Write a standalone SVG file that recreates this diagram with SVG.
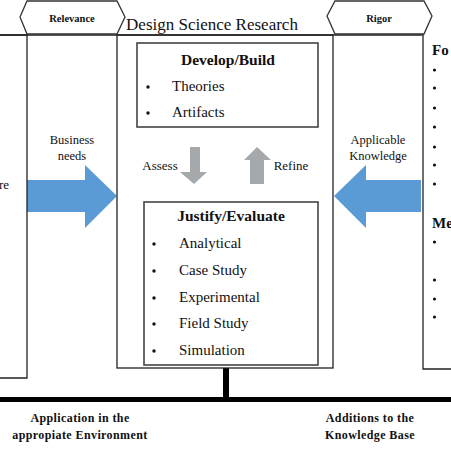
<svg xmlns="http://www.w3.org/2000/svg" width="451" height="451" viewBox="0 0 451 451">
<style>
.serif{font-family:"Liberation Serif","Times New Roman",serif;fill:#111}
.b{font-weight:bold}
.box{fill:none;stroke:#222;stroke-width:1.3}
.inner{fill:none;stroke:#444;stroke-width:1.6}
.hex{fill:#fff;stroke:#333;stroke-width:1.3}
.blue{fill:#5B9BD5}
.gray{fill:#A5A9AC}
.thick{stroke:#000;stroke-width:5;fill:none}
</style>
<rect width="451" height="451" fill="#fff"/>
<g id="connectors">
  <line x1="0" y1="35" x2="424" y2="35" stroke="#222" stroke-width="1.3"/>
  <polyline class="thick" points="0,399.5 451,399.5"/>
  <line x1="226" y1="368" x2="226" y2="399" stroke="#000" stroke-width="6"/>
  <polygon class="blue" points="27,180 85,180 85,165 117,196 85,228 85,212 27,212"/>
  <polygon class="blue" points="421,180 366,180 366,165 334,196 366,228 366,212 421,212"/>
  <polygon class="gray" points="190,147 200,147 200,172 207,172 194,184 180,172 190,172"/>
  <polygon class="gray" points="250,184 264,184 264,160 271,160 257,147 244,160 250,160"/>
  <text class="serif" x="160" y="170" font-size="13" text-anchor="middle">Assess</text>
  <text class="serif" x="291" y="170" font-size="13" text-anchor="middle">Refine</text>
  <text class="serif" x="72" y="144" font-size="12.5" text-anchor="middle">Business</text>
  <text class="serif" x="72" y="160" font-size="12.5" text-anchor="middle">needs</text>
  <text class="serif" x="378" y="144" font-size="12.5" text-anchor="middle">Applicable</text>
  <text class="serif" x="378" y="160" font-size="12.5" text-anchor="middle">Knowledge</text>
</g>
<g id="relevance">
  <polygon class="hex" points="20,17 27,1 117,1 125,17 117,34 27,34"/>
  <text class="serif b" x="72" y="22" font-size="10.5" text-anchor="middle">Relevance</text>
</g>
<g id="rigor">
  <polygon class="hex" points="327,16 335,1 424,1 432,16 424,34 335,34"/>
  <text class="serif b" x="379" y="22" font-size="10.5" text-anchor="middle">Rigor</text>
</g>
<g id="environment">
  <polyline class="box" points="-2,35 27,35 27,378 -2,378"/>
  <text class="serif" x="9" y="189" font-size="13" text-anchor="end">re</text>
</g>
<g id="dsr">
  <rect class="box" x="117" y="35" width="216" height="333"/>
  <text class="serif" x="212" y="30" font-size="17" text-anchor="middle">Design Science Research</text>
</g>
<g id="develop">
  <rect class="inner" x="137" y="43" width="181" height="84"/>
  <text class="serif b" x="228" y="65" font-size="15.5" text-anchor="middle">Develop/Build</text>
  <circle cx="148" cy="87" r="1.7" fill="#111"/>
  <text class="serif" x="172" y="91" font-size="15">Theories</text>
  <circle cx="148" cy="113" r="1.7" fill="#111"/>
  <text class="serif" x="172" y="117" font-size="15">Artifacts</text>
</g>
<g id="justify">
  <rect class="inner" x="144" y="202" width="174" height="163"/>
  <text class="serif b" x="231" y="221" font-size="15.5" text-anchor="middle">Justify/Evaluate</text>
  <circle cx="154" cy="244" r="1.7" fill="#111"/>
  <text class="serif" x="179" y="248" font-size="15">Analytical</text>
  <circle cx="154" cy="271" r="1.7" fill="#111"/>
  <text class="serif" x="179" y="275" font-size="15">Case Study</text>
  <circle cx="154" cy="298" r="1.7" fill="#111"/>
  <text class="serif" x="179" y="302" font-size="15">Experimental</text>
  <circle cx="154" cy="324" r="1.7" fill="#111"/>
  <text class="serif" x="179" y="328" font-size="15">Field Study</text>
  <circle cx="154" cy="351" r="1.7" fill="#111"/>
  <text class="serif" x="179" y="355" font-size="15">Simulation</text>
</g>
<g id="knowledge-base">
  <polyline class="box" points="453,369 423,369 423,36"/>
  <text class="serif b" x="432" y="55" font-size="15">Fo</text>
  <g fill="#111">
    <circle cx="434.5" cy="70" r="1.6"/>
    <circle cx="434.5" cy="88" r="1.6"/>
    <circle cx="434.5" cy="108" r="1.6"/>
    <circle cx="434.5" cy="127" r="1.6"/>
    <circle cx="434.5" cy="147" r="1.6"/>
    <circle cx="434.5" cy="165" r="1.6"/>
    <circle cx="434.5" cy="184" r="1.6"/>
  </g>
  <text class="serif b" x="432" y="228" font-size="15">Me</text>
  <g fill="#111">
    <circle cx="434.5" cy="242" r="1.6"/>
    <circle cx="434.5" cy="280" r="1.6"/>
    <circle cx="434.5" cy="299" r="1.6"/>
    <circle cx="434.5" cy="317" r="1.6"/>
  </g>
</g>
<g id="bottom-labels">
  <text class="serif b" x="80" y="422" font-size="12" text-anchor="middle" letter-spacing="0.4">Application in the</text>
  <text class="serif b" x="80" y="439" font-size="12" text-anchor="middle" letter-spacing="0.4">appropiate Environment</text>
  <text class="serif b" x="370" y="422" font-size="12" text-anchor="middle" letter-spacing="0.4">Additions to the</text>
  <text class="serif b" x="370" y="439" font-size="12" text-anchor="middle" letter-spacing="0.4">Knowledge Base</text>
</g>
</svg>
